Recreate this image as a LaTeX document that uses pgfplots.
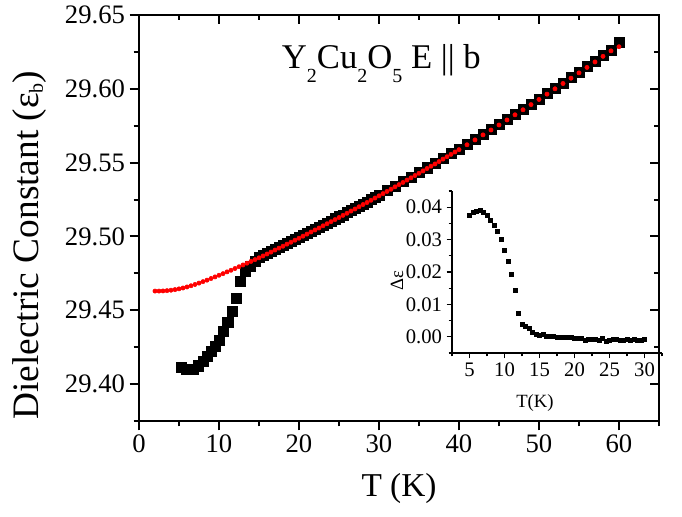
\documentclass[border=0pt]{standalone}
\usepackage{fontspec}
\setmainfont{Liberation Serif}
\usepackage{pgfplots}
\pgfplotsset{compat=1.18}
\newcommand\tsub[1]{\raisebox{-10pt}{\fontsize{15}{15}\selectfont #1}}
\begin{document}
\begin{tikzpicture}
\useasboundingbox (-104.25pt,-72pt) rectangle (407.25pt,315.75pt);
% main axis
\begin{axis}[
  at={(0,0)}, anchor=south west,
  scale only axis, width=390pt, height=304.5pt,
  xmin=0, xmax=65, ymin=29.375, ymax=29.65,
  xtick={0,10,20,30,40,50,60}, minor xtick={5,15,25,35,45,55,65},
  ytick={29.40,29.45,29.50,29.55,29.60,29.65},
  minor ytick={29.375,29.425,29.475,29.525,29.575,29.625},
  tick align=outside, xtick pos=bottom, ytick pos=left,
  major tick length=7pt, minor tick length=4pt,
  every tick/.style={line width=1.5pt, black},
  axis line style={line width=1.8pt},
  /pgf/number format/assume math mode=true,
  tick label style={font=\fontsize{20}{20}\selectfont},
  y tick label style={/pgf/number format/.cd, fixed, fixed zerofill, precision=2},
  xlabel={T (K)}, ylabel={Dielectric Constant (ε\raisebox{-3pt}{\fontsize{15}{15}\selectfont b})},
  xlabel style={font=\fontsize{25}{25}\selectfont, at={(axis description cs:0.5,-0.165)}, anchor=center},
  ylabel style={font=\fontsize{28}{28}\selectfont, at={(axis description cs:-0.21,0.433)}, anchor=center},
  clip=false,
]
\addplot[only marks, mark=square*, mark size=3.8pt, black] coordinates {
(5.26,29.4113)(5.97,29.4101)(6.8,29.4100)(7.43,29.4124)(7.98,29.4157)(8.48,29.4191)
(9.02,29.4225)(9.56,29.4259)(10.06,29.4299)(10.57,29.4360)(11.1,29.4421)(11.69,29.4495)
(12.2,29.4579)(12.7,29.4698)(13.3,29.4765)(13.9,29.4799)(14.5,29.4833)
(15,29.4860)(15.5,29.4875)(16,29.4884)(16.5,29.4900)(17,29.4912)(17.5,29.4927)
(18,29.4940)(18.5,29.4952)(19,29.4966)(19.5,29.4981)(20,29.4992)(20.5,29.5008)
(21,29.5021)(21.5,29.5036)(22,29.5049)(22.5,29.5060)(23,29.5077)(23.5,29.5091)
(24,29.5104)(24.5,29.5120)(25,29.5133)(25.5,29.5146)(26,29.5162)(26.5,29.5177)
(27,29.5190)(27.5,29.5206)(28,29.5220)(28.5,29.5233)(29,29.5250)(29.5,29.5264)
(30,29.5279)(31,29.5310)(32,29.5341)(33,29.5372)(34,29.5402)(35,29.5433)
(36,29.5465)(37,29.5497)(38,29.5531)(39,29.5561)(40,29.5592)(41,29.5625)
(42,29.5657)(43,29.5692)(44,29.5724)(45,29.5760)(46,29.5792)(47,29.5828)
(48,29.5862)(49,29.5896)(50,29.5932)(51,29.5968)(52,29.6003)(53,29.6040)
(54,29.6076)(55,29.6112)(56,29.6150)(57,29.6187)(58,29.6226)(59,29.6264)(60,29.6315)
};
\addplot[only marks, mark=*, mark size=1.6pt, red] coordinates {
(2,29.4630)(2.5,29.4630)(3,29.4631)(3.5,29.4633)(4,29.4636)(4.5,29.4640)
(5,29.4645)(5.5,29.4651)(6,29.4658)(6.5,29.4666)(7,29.4675)(7.5,29.4684)
(8,29.4694)(8.5,29.4704)(9,29.4715)(9.5,29.4726)(10,29.4737)(10.5,29.4748)
(11,29.4760)(11.5,29.4771)(12,29.4783)(12.5,29.4795)(13,29.4807)(13.5,29.4819)
(14,29.4831)(14.5,29.4843)(15,29.4855)(15.5,29.4868)(16,29.4881)(16.5,29.4894)
(17,29.4908)(17.5,29.4921)(18,29.4934)(18.5,29.4948)(19,29.4961)(19.5,29.4975)
(20,29.4988)(20.5,29.5002)(21,29.5016)(21.5,29.5030)(22,29.5044)(22.5,29.5057)
(23,29.5072)(23.5,29.5086)(24,29.5100)(24.5,29.5114)(25,29.5128)(25.5,29.5143)
(26,29.5157)(26.5,29.5172)(27,29.5186)(27.5,29.5201)(28,29.5216)(28.5,29.5230)
(29,29.5245)(29.5,29.5260)(30,29.5275)(30.5,29.5290)(31,29.5305)(31.5,29.5320)
(32,29.5336)(32.5,29.5351)(33,29.5366)(33.5,29.5382)(34,29.5397)(34.5,29.5413)
(35,29.5428)(35.5,29.5444)(36,29.5460)(36.5,29.5476)(37,29.5491)(37.5,29.5507)
(38,29.5524)(38.5,29.5540)(39,29.5556)(39.5,29.5572)(40,29.5588)(41,29.5621)
(42,29.5654)(43,29.5688)(44,29.5721)(45,29.5755)(46,29.5789)(47,29.5824)
(48,29.5858)(49,29.5893)(50,29.5928)(51,29.5964)(52,29.6000)(53,29.6036)
(54,29.6072)(55,29.6108)(56,29.6145)(57,29.6182)(58,29.6220)(59,29.6257)(60,29.6285)
};
\node[font=\fontsize{26}{26}\selectfont] at (axis cs:30.3,29.617)
  {Y\tsub{2}Cu\tsub{2}O\tsub{5} E \textbar\textbar{} b};
\end{axis}
% top/right inward ticks
\begin{axis}[
  at={(0,0)}, anchor=south west,
  scale only axis, width=390pt, height=304.5pt,
  xmin=0, xmax=65, ymin=29.375, ymax=29.65,
  xtick={0,10,20,30,40,50,60}, minor xtick={5,15,25,35,45,55,65},
  ytick={29.40,29.45,29.50,29.55,29.60,29.65},
  minor ytick={29.375,29.425,29.475,29.525,29.575,29.625},
  tick align=inside, xtick pos=top, ytick pos=right,
  major tick length=7pt, minor tick length=4pt,
  every tick/.style={line width=1.5pt, black},
  axis line style={line width=1.8pt},
  xticklabels={}, yticklabels={},
]
\end{axis}
% inset
\begin{axis}[
  at={(234.75pt,51pt)}, anchor=south west,
  scale only axis, width=157.5pt, height=121.5pt,
  xmin=2.5, xmax=32.5, ymin=-0.005, ymax=0.045,
  axis x line*=bottom, axis y line*=left,
  xtick={5,10,15,20,25,30}, minor xtick={2.5,7.5,12.5,17.5,22.5,27.5,32.5},
  ytick={0,0.01,0.02,0.03,0.04},
  minor ytick={-0.005,0.005,0.015,0.025,0.035,0.045},
  scaled y ticks=false,
  tick align=outside,
  major tick length=4pt, minor tick length=2.5pt,
  every tick/.style={line width=0.8pt, black},
  axis line style={line width=0.9pt},
  /pgf/number format/assume math mode=true,
  tick label style={font=\fontsize{15.5}{15.5}\selectfont},
  y tick label style={/pgf/number format/.cd, fixed, fixed zerofill, precision=2},
  xlabel={T(K)}, ylabel={Δε},
  label style={font=\fontsize{14}{14}\selectfont},
  xlabel style={at={(axis description cs:0.395,-0.31)}, anchor=center},
  ylabel style={at={(axis description cs:-0.262,0.45)}, anchor=center},
]
\addplot[only marks, mark=square*, mark size=1.5pt, black] coordinates {
(5.0,0.0376)(5.5,0.0383)(6.0,0.0386)(6.5,0.0389)(7.0,0.0384)(7.5,0.0374)
(8.0,0.0360)(8.5,0.0345)(9.0,0.0326)(9.5,0.0300)(10.0,0.0267)(10.5,0.0233)
(11.0,0.0193)(11.5,0.0144)(12.0,0.0074)(12.5,0.0038)(13.0,0.0031)(13.5,0.0026)
(14.0,0.0015)(14.5,0.0008)(15.0,0.0005)(15.5,0.0007)(16.0,0.0003)(16.5,0.0003)
(17.0,0.0003)(17.5,0.0000)(18.0,-0.0001)(18.5,-0.0001)(19.0,-0.0002)(19.5,-0.0001)
(20.0,-0.0004)(20.5,-0.0004)(21.0,-0.0005)(21.5,-0.0010)(22.0,-0.0008)(22.5,-0.0008)
(23.0,-0.0009)(23.5,-0.0010)(24.0,-0.0004)(24.5,-0.0014)(25.0,-0.0010)(25.5,-0.0008)
(26.0,-0.0009)(26.5,-0.0012)(27.0,-0.0010)(27.5,-0.0008)(28.0,-0.0011)(28.5,-0.0009)
(29.0,-0.0010)(29.5,-0.0012)(30.0,-0.0009)
};
\end{axis}
\end{tikzpicture}
\end{document}
